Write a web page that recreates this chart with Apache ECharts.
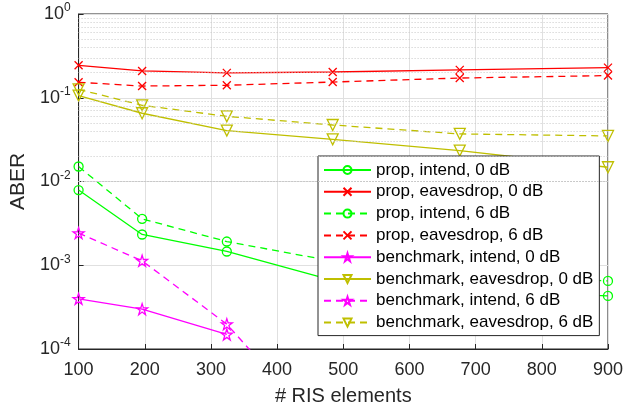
<!DOCTYPE html>
<html><head><meta charset="utf-8">
<script src="https://cdn.jsdelivr.net/npm/echarts@6/dist/echarts.min.js"></script>
<style>html,body{margin:0;padding:0;background:#fff}#c{width:626px;height:411px}</style>
</head><body><div id="c"></div>
<script>
const xN = [100, 196, 324, 484, 676, 900];
const propIntend0 = [0.0079, 0.00233, 0.00146, 0.00066, 0.0005, 0.00043];
const propEaves0 = [0.244, 0.209, 0.198, 0.203, 0.215, 0.229];
const propIntend6 = [0.0151, 0.00358, 0.00192, 0.00112, 0.0008, 0.00065];
const propEaves6 = [0.153, 0.138, 0.141, 0.154, 0.172, 0.184];
const benchIntend0 = [0.000397, 0.000299, 0.000149];
const benchEaves0 = [0.106, 0.0653, 0.0405, 0.0319, 0.0234, 0.0148];
const benchIntend6 = [0.00242, 0.00113, 0.000198, 0.0000076];
const benchEaves6 = [0.126, 0.0813, 0.060, 0.0473, 0.037, 0.035];
const xTicks = [100, 200, 300, 400, 500, 600, 700, 800, 900];
const yDecades = [-4, -3, -2, -1, 0];

const GREEN = '#00ff00', RED = '#ff0000', MAG = '#ff00ff', OLIVE = '#bfbf00';
const SYM = {
  circle: 'path://M50,0A50,50 0 1,1 49.99,0Z',
  cross: 'path://M0,0L10,10M10,0L0,10',
  star: 'path://M50,0L61.2,34.5L97.6,34.5L68.2,55.9L79.4,90.5L50,69.1L20.6,90.5L31.8,55.9L2.4,34.5L38.8,34.5Z',
  tri: 'path://M0,0L10,0L5,8.66Z'
};
function zip(ys) { return ys.map((v, i) => [xN[i], v]); }
function mk(name, ys, color, dashed, sym, size) {
  return {
    name, type: 'line', data: zip(ys), symbol: SYM[sym], symbolSize: size,
    showAllSymbol: true, clip: true, z: 3,
    lineStyle: { color, width: 1.3, type: dashed ? [7, 5] : 'solid' },
    itemStyle: { color: 'rgba(0,0,0,0)', borderColor: color, borderWidth: 1.3 },
    emphasis: { disabled: true }, animation: false
  };
}
const minorVals = [];
yDecades.slice(0, -1).forEach(e => { for (let m = 2; m <= 9; m++) minorVals.push(m * Math.pow(10, e)); });

const series = [
  mk('prop, intend, 0 dB', propIntend0, GREEN, false, 'circle', 9),
  mk('prop, eavesdrop, 0 dB', propEaves0, RED, false, 'cross', 8),
  mk('prop, intend, 6 dB', propIntend6, GREEN, true, 'circle', 9),
  mk('prop, eavesdrop, 6 dB', propEaves6, RED, true, 'cross', 8),
  mk('benchmark, intend, 0 dB', benchIntend0, MAG, false, 'star', 11),
  mk('benchmark, eavesdrop, 0 dB', benchEaves0, OLIVE, false, 'tri', 11),
  mk('benchmark, intend, 6 dB', benchIntend6, MAG, true, 'star', 11),
  mk('benchmark, eavesdrop, 6 dB', benchEaves6, OLIVE, true, 'tri', 11),
  {
    type: 'line', data: [], z: 1, silent: true, animation: false,
    markLine: {
      silent: true, symbol: 'none', animation: false, label: { show: false },
      lineStyle: { type: [1, 2], color: '#c8c8c8', width: 1 },
      data: minorVals.map(v => ({ yAxis: v }))
    }
  }
];

const chart = echarts.init(document.getElementById('c'), null, { renderer: 'canvas' });
chart.setOption({
  backgroundColor: '#fff',
  textStyle: { fontFamily: 'Liberation Sans, Arial, sans-serif' },
  grid: { left: 77, right: 14, top: 14, bottom: 62, show: true, borderColor: '#262626', borderWidth: 1, backgroundColor: 'transparent' },
  xAxis: {
    type: 'value', min: 100, max: 900, interval: 100,
    name: '# RIS elements', nameLocation: 'middle', nameGap: 37,
    nameTextStyle: { fontSize: 20, color: '#262626' },
    axisLine: { lineStyle: { color: '#262626' } },
    axisTick: { inside: true, length: 5, lineStyle: { color: '#262626' } },
    axisLabel: { fontSize: 18, color: '#262626', margin: 12, formatter: v => xTicks.includes(v) ? String(v) : '' },
    splitLine: { show: true, lineStyle: { color: '#e0e0e0', width: 1 } }
  },
  yAxis: {
    type: 'log', logBase: 10, min: 1e-4, max: 1,
    name: 'ABER', nameLocation: 'middle', nameGap: 48,
    nameTextStyle: { fontSize: 21, color: '#262626' },
    axisLine: { show: true, lineStyle: { color: '#262626' } },
    axisTick: { inside: true, length: 5, lineStyle: { color: '#262626' } },
    axisLabel: {
      margin: 8, color: '#262626',
      formatter: v => { const e = Math.round(Math.log10(v)); return '{b|10}{s|' + e + '}'; },
      rich: { b: { fontSize: 18, color: '#262626' }, s: { fontSize: 12, color: '#262626', verticalAlign: 'top', padding: [0, 0, 12, 0] } }
    },
    splitLine: { show: true, lineStyle: { color: '#e0e0e0', width: 1 } }
  },
  legend: {
    data: series.slice(0, 8).map(s => s.name),
    orient: 'vertical', left: 318, top: 156,
    backgroundColor: '#fff', borderColor: '#262626', borderWidth: 1,
    padding: [5, 6, 4, 5], itemGap: 3.8, itemWidth: 47, itemHeight: 10,
    textStyle: { fontSize: 17, lineHeight: 18, color: '#000' }, selectedMode: false
  },
  series
});
</script></body></html>
